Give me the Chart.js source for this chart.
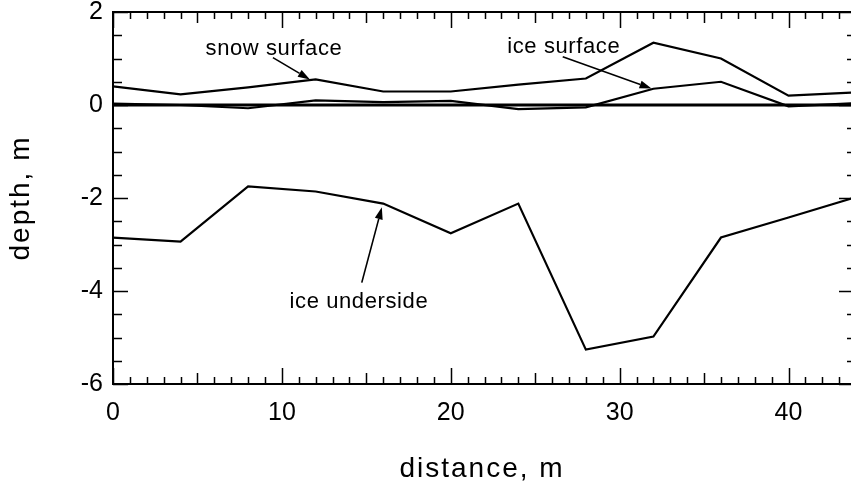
<!DOCTYPE html>
<html>
<head>
<meta charset="utf-8">
<script src="https://cdn.jsdelivr.net/npm/chart.js@4/dist/chart.umd.min.js"></script>
<style>
  html, body { margin: 0; padding: 0; background: #fff; }
  #wrap { width: 851px; height: 486px; position: relative; }
</style>
</head>
<body>
<div id="wrap"><canvas id="profile"></canvas></div>
<script>
// Sea-ice transect: sample points every 4 m along the line
const distance     = [0, 4, 8, 12, 16, 20, 24, 28, 32, 36, 40, 44];
const snowSurface  = [0.40, 0.23, 0.38, 0.55, 0.29, 0.29, 0.44, 0.57, 1.34, 1.00, 0.20, 0.27];
const iceSurface   = [0.03, 0.00, -0.07, 0.10, 0.06, 0.09, -0.09, -0.05, 0.35, 0.50, -0.03, 0.04];
const iceUnderside = [-2.85, -2.94, -1.75, -1.86, -2.12, -2.76, -2.12, -5.26, -4.98, -2.85, -2.42, -1.98];
const waterLevel   = [0, 0, 0, 0, 0, 0, 0, 0, 0, 0, 0, 0];

const xTicks = [0, 10, 20, 30, 40];
const yTicks = [-6, -4, -2, 0, 2];

// Callout labels with arrows, anchored in data units
const callouts = [
  { text: 'snow surface',  tx: 9.53,  ty: 1.065, from: [9.47, 1.02],  to: [11.66, 0.55] },
  { text: 'ice surface',   tx: 26.69, ty: 1.11,  from: [26.63, 1.04], to: [31.89, 0.355] },
  { text: 'ice underside', tx: 14.56, ty: -4.36, from: [14.73, -3.82], to: [15.92, -2.20] }
];

const FONT = '"Liberation Sans", Arial, Helvetica, sans-serif';

function series(values) {
  return values.map((v, i) => ({ x: distance[i], y: v }));
}

function lineSet(label, values, width) {
  return {
    label, data: series(values),
    borderColor: '#000', borderWidth: width,
    pointRadius: 0, tension: 0, fill: false
  };
}

function arrow(ctx, x0, y0, x1, y1) {
  const ang = Math.atan2(y1 - y0, x1 - x0);
  const L = 12, W = 4;
  const bx = x1 - L * Math.cos(ang), by = y1 - L * Math.sin(ang);
  ctx.beginPath();
  ctx.moveTo(x0, y0);
  ctx.lineTo(bx, by);
  ctx.stroke();
  ctx.beginPath();
  ctx.moveTo(x1, y1);
  ctx.lineTo(bx + W * Math.sin(ang), by - W * Math.cos(ang));
  ctx.lineTo(bx - W * Math.sin(ang), by + W * Math.cos(ang));
  ctx.closePath();
  ctx.fill();
}

// Frame, inward tick marks, callouts and axis titles
const framePlugin = {
  id: 'frame',
  afterDatasetsDraw(chart) {
    const { ctx, chartArea: a, scales: { x, y } } = chart;
    ctx.save();
    ctx.strokeStyle = '#000';
    ctx.fillStyle = '#000';
    ctx.lineCap = 'butt';

    ctx.lineWidth = 2;
    ctx.beginPath();
    ctx.moveTo(a.right, a.top); ctx.lineTo(a.left, a.top);
    ctx.lineTo(a.left, a.bottom); ctx.lineTo(a.right, a.bottom);
    ctx.stroke();

    ctx.lineWidth = 1.5;
    ctx.beginPath();
    for (let v = Math.ceil(x.min); v <= x.max; v++) {
      const len = v % 10 === 0 ? 16 : (v % 5 === 0 ? 11 : 7);
      const px = Math.round(x.getPixelForValue(v)) + 0.5;
      ctx.moveTo(px, a.bottom); ctx.lineTo(px, a.bottom - len);
      ctx.moveTo(px, a.top); ctx.lineTo(px, a.top + len);
    }
    for (let i = Math.round(y.min * 2); i <= Math.round(y.max * 2); i++) {
      const major = i % 4 === 0;
      const py = Math.round(y.getPixelForValue(i / 2)) + 0.5;
      ctx.moveTo(a.left, py); ctx.lineTo(a.left + (major ? 15 : 9), py);
      ctx.moveTo(a.right, py); ctx.lineTo(a.right - (major ? 12 : 4), py);
    }
    ctx.stroke();

    ctx.lineWidth = 1.6;
    ctx.font = '22px ' + FONT;
    ctx.letterSpacing = '0.6px';
    ctx.textAlign = 'center';
    ctx.textBaseline = 'alphabetic';
    for (const c of callouts) {
      ctx.fillText(c.text, x.getPixelForValue(c.tx), y.getPixelForValue(c.ty));
      arrow(ctx,
        x.getPixelForValue(c.from[0]), y.getPixelForValue(c.from[1]),
        x.getPixelForValue(c.to[0]), y.getPixelForValue(c.to[1]));
    }

    ctx.font = '28px ' + FONT;
    ctx.letterSpacing = '2px';
    ctx.fillText('distance, m', (a.left + a.right) / 2, chart.height - 9);
    ctx.translate(29, (a.top + a.bottom) / 2);
    ctx.rotate(-Math.PI / 2);
    ctx.fillText('depth, m', 0, 0);
    ctx.restore();
  }
};

new Chart(document.getElementById('profile'), {
  type: 'line',
  data: {
    datasets: [
      lineSet('water level', waterLevel, 3),
      lineSet('ice surface', iceSurface, 2.2),
      lineSet('snow surface', snowSurface, 2.2),
      lineSet('ice underside', iceUnderside, 2.2)
    ]
  },
  options: {
    responsive: true,
    maintainAspectRatio: false,
    animation: false,
    devicePixelRatio: 1,
    layout: { padding: { top: 12, right: 0, left: 0, bottom: 0 } },
    plugins: { legend: { display: false }, tooltip: { enabled: false } },
    scales: {
      x: {
        type: 'linear', min: 0, max: 43.7,
        afterBuildTicks: s => { s.ticks = xTicks.map(v => ({ value: v })); },
        afterFit: s => { s.height = 102; s.paddingLeft = 0; s.paddingRight = 0; },
        grid: { display: false, drawTicks: false },
        border: { display: false },
        ticks: { color: '#000', padding: 14, maxRotation: 0, font: { family: FONT, size: 25 } }
      },
      y: {
        type: 'linear', min: -6, max: 2,
        afterBuildTicks: s => { s.ticks = yTicks.map(v => ({ value: v })); },
        afterFit: s => { s.width = 113; s.paddingTop = 0; s.paddingBottom = 0; },
        grid: { display: false, drawTicks: false },
        border: { display: false },
        ticks: { color: '#000', padding: 10, font: { family: FONT, size: 25 } }
      }
    }
  },
  plugins: [framePlugin]
});
</script>
</body>
</html>
